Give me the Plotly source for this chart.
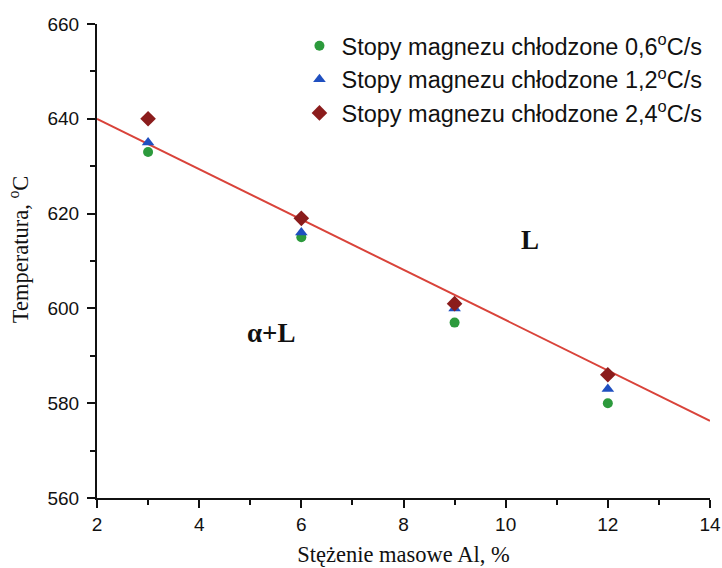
import plotly.graph_objects as go

x_vals = [3, 6, 9, 12]
t_06 = [633, 615, 597, 580]
t_12 = [635, 616, 600, 583]
t_24 = [640, 619, 601, 586]
fit_x = [2, 14]
fit_y = [640, 576.3]
names = ["Stopy magnezu chłodzone 0,6<sup>o</sup>C/s",
         "Stopy magnezu chłodzone 1,2<sup>o</sup>C/s",
         "Stopy magnezu chłodzone 2,4<sup>o</sup>C/s"]

fig = go.Figure()
fig.add_trace(go.Scatter(x=fit_x, y=fit_y, mode="lines", line=dict(color="#d9433a", width=2),
                         showlegend=False, hoverinfo="skip", cliponaxis=False))
fig.add_trace(go.Scatter(x=x_vals, y=t_06, mode="markers", name=names[0],
                         marker=dict(symbol="circle", size=10, color="#2c9a3c")))
fig.add_trace(go.Scatter(x=x_vals, y=t_12, mode="markers", name=names[1],
                         marker=dict(symbol="triangle-up", size=11, color="#1f4fc0")))
fig.add_trace(go.Scatter(x=x_vals, y=t_24, mode="markers", name=names[2],
                         marker=dict(symbol="diamond", size=12, color="#8b1c1c")))

fig.add_annotation(x=10.47, y=614.4, text="<b>L</b>", showarrow=False,
                   font=dict(family="Liberation Serif", size=27, color="#111"))
fig.add_annotation(x=5.41, y=594.8, text="<b>α+L</b>", showarrow=False,
                   font=dict(family="Liberation Serif", size=27, color="#111"))
# y-axis title (placed as annotation to match reference position)
fig.add_annotation(xref="paper", yref="paper", x=-78 / 613, y=0.525, xanchor="center",
                   yanchor="middle", textangle=-90, showarrow=False,
                   text="Temperatura, <sup>o</sup>C",
                   font=dict(family="Liberation Serif", size=22.5, color="#111"))

fig.update_layout(
    width=722, height=568,
    margin=dict(l=97, r=12, t=24, b=70),
    paper_bgcolor="white", plot_bgcolor="white",
    font=dict(family="Liberation Sans", size=19, color="#111"),
    legend=dict(x=0.327, y=1.0, xanchor="left", yanchor="top",
                font=dict(family="Liberation Sans", size=23.5, color="#111"),
                bgcolor="rgba(0,0,0,0)", itemwidth=34),
    xaxis=dict(range=[2, 14], tickvals=[2, 4, 6, 8, 10, 12, 14], showgrid=False, zeroline=False,
               automargin=False, ticklabeloverflow="allow",
               showline=True, linecolor="#111", linewidth=2, ticks="outside", ticklen=8,
               tickwidth=2, tickcolor="#111",
               minor=dict(tickvals=[3, 5, 7, 9, 11, 13], ticks="outside", ticklen=5,
                          tickwidth=2, tickcolor="#111"),
               title=dict(text="Stężenie masowe Al, %", font=dict(family="Liberation Serif", size=22.5),
                          standoff=12)),
    yaxis=dict(range=[560, 660], tickvals=[560, 580, 600, 620, 640, 660], showgrid=False,
               automargin=False, ticklabeloverflow="allow", ticklabelstandoff=4,
               zeroline=False, showline=True, linecolor="#111", linewidth=2, ticks="outside",
               ticklen=8, tickwidth=2, tickcolor="#111",
               minor=dict(tickvals=[570, 590, 610, 630, 650], ticks="outside", ticklen=5,
                          tickwidth=2, tickcolor="#111")),
)

fig.write_html("out.html")
